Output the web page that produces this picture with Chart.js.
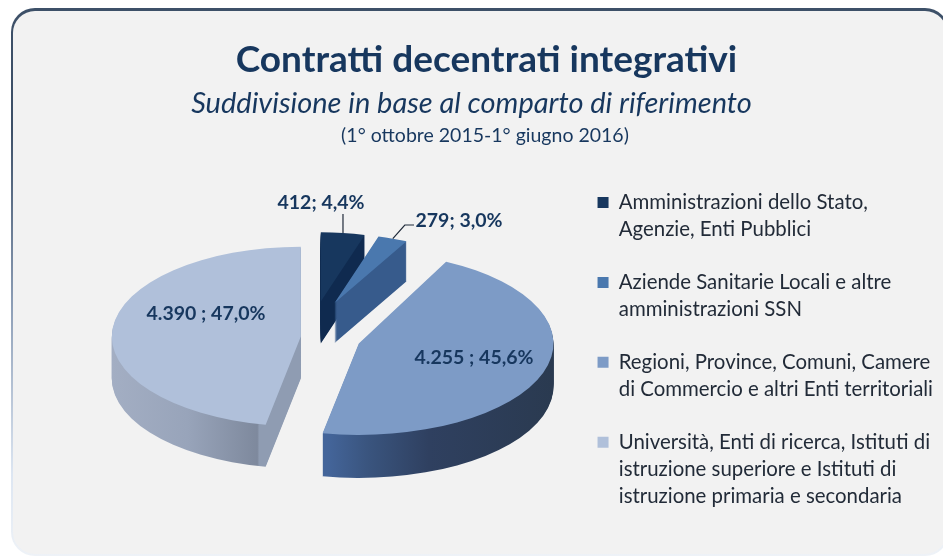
<!DOCTYPE html>
<html>
<head>
<meta charset="utf-8">
<script src="https://cdn.jsdelivr.net/npm/chart.js@4"></script>
<style>
html, body { margin: 0; padding: 0; background: #fff; overflow: hidden; }
#frame { position: absolute; left: 11px; top: 8px; width: 938px; height: 548px; border-radius: 24px;
  background: linear-gradient(#3d5068 0, #3d5068 22%, #8fa0b8 55%, #dde6f2 85%, #eef2f7 100%); }
#panel { position: absolute; left: 2px; top: 3px; right: 2px; bottom: 2px; border-radius: 22px; background: #f2f2f2; }
canvas { position: absolute; left: 0; top: 0; }
</style>
</head>
<body>
<div id="frame"><div id="panel"></div></div>
<canvas id="grafico" width="943" height="557"></canvas>
<script>
const categorie = [
    ['Amministrazioni dello Stato,', 'Agenzie, Enti Pubblici'],
    ['Aziende Sanitarie Locali e altre', 'amministrazioni SSN'],
    ['Regioni, Province, Comuni, Camere', 'di Commercio e altri Enti territoriali'],
    ['Università, Enti di ricerca, Istituti di', 'istruzione superiore e Istituti di', 'istruzione primaria e secondaria']
];
const contratti = [412, 279, 4255, 4390];
const titolo = 'Contratti decentrati integrativi';
const sottotitolo = 'Suddivisione in base al comparto di riferimento';
const periodo = '(1° ottobre 2015-1° giugno 2016)';

const colori = ['#17375e', '#4a78ae', '#7d9bc6', '#b0c0da'];
const blu = '#17375e';

// finta vista 3D: ogni fetta viene schiacciata, staccata e rimpicciolita
const spostaX = 27;
const spostaY = -26.5;
const raggio = 189;
const spessore = [42, 40, 43, 42];
const stacco = [58, 60, 48.6, 12];
const scala = [0.85, 0.85, 1.03, 1];
const schiaccia = [0.43, 0.43, 0.47, 0.475];
const abbassa = [-7, -6, 3, 4];
const ordine = [0, 1, 3, 2];
const pareti = [
    [[0, '#0f2a4f'], [1, '#0f2a4f']],
    [[0, '#375b8c'], [1, '#375b8c']],
    [[0, '#44659a'], [0.42, '#44659a'], [0.52, '#3a557f'], [0.68, '#2f4060'], [1, '#2a3a50']],
    [[0, '#a3aec3'], [0.2, '#98a4ba'], [0.385, '#7e899d'], [0.39, '#8f9cb2'], [1, '#8f9cb2']]
];
const etichette = [
    { x: 321, y: 203 },
    { x: 459, y: 221 },
    { x: 474, y: 358 },
    { x: 206, y: 314 }
];

function testoEtichetta(i) {
    const totale = contratti.reduce((a, b) => a + b, 0);
    const v = contratti[i];
    const valore = String(v).replace(/\B(?=(\d{3})+$)/g, '.');
    const perc = (v / totale * 100).toFixed(1).replace('.', ',');
    return valore + (v >= 1000 ? ' ; ' : '; ') + perc + '%';
}

function vista(ctx, arco, i, dy) {
    const meta = (arco.startAngle + arco.endAngle) / 2;
    const x = arco.x + spostaX + Math.cos(meta) * stacco[i];
    const y = arco.y + spostaY + Math.sin(meta) * stacco[i] * schiaccia[i] + abbassa[i] + dy;
    ctx.translate(x, y);
    ctx.scale(scala[i], scala[i] * schiaccia[i]);
    ctx.translate(-arco.x, -arco.y);
}

const torta3d = {
    id: 'torta3d',
    afterLayout(chart) {
        // il titolo nel riferimento sta un po' a destra del sottotitolo
        chart.titleBlock.left += 30;
    },
    beforeDatasetDraw(chart, args) {
        const ctx = chart.ctx;
        const archi = args.meta.data;
        ordine.forEach(i => {
            const arco = archi[i];
            const originali = arco.options;
            for (let d = spessore[i]; d >= 0; d--) {
                ctx.save();
                vista(ctx, arco, i, d);
                let colore = colori[i];
                if (d > 0) {
                    colore = ctx.createLinearGradient(arco.x - raggio, 0, arco.x + raggio, 0);
                    pareti[i].forEach(s => colore.addColorStop(s[0], s[1]));
                }
                arco.options = Object.assign({}, originali, { backgroundColor: colore, borderWidth: 0 });
                arco.draw(ctx);
                ctx.restore();
            }
            arco.options = originali;
        });
        return false;
    },
    afterDraw(chart) {
        const ctx = chart.ctx;
        const archi = chart.getDatasetMeta(0).data;

        // linee guida delle due fette piccole
        ctx.save();
        ctx.strokeStyle = '#1f2a3a';
        ctx.lineWidth = 1.2;
        [0, 1].forEach(i => {
            const arco = archi[i];
            const meta = (arco.startAngle + arco.endAngle) / 2;
            ctx.save();
            vista(ctx, arco, i, 0);
            const m = ctx.getTransform();
            ctx.restore();
            const px = m.transformPoint(new DOMPoint(arco.x + Math.cos(meta) * raggio, arco.y + Math.sin(meta) * raggio));
            ctx.beginPath();
            ctx.moveTo(px.x, px.y);
            if (i === 0) {
                ctx.lineTo(px.x, etichette[i].y + 11);
            } else {
                ctx.lineTo(px.x + 12, etichette[i].y + 4);
                ctx.lineTo(etichette[i].x - 45, etichette[i].y + 4);
            }
            ctx.stroke();
        });
        ctx.restore();

        ctx.save();
        ctx.textAlign = 'center';
        ctx.textBaseline = 'middle';
        ctx.fillStyle = blu;
        ctx.font = 'bold 19.5px Lato';
        etichette.forEach((e, i) => ctx.fillText(testoEtichetta(i), e.x, e.y));
        ctx.font = '19.5px Lato';
        ctx.fillText(periodo, 485, 136);
        ctx.restore();
    }
};

new Chart(document.getElementById('grafico'), {
    type: 'pie',
    data: {
        labels: categorie,
        datasets: [{
            data: contratti,
            backgroundColor: colori,
            borderWidth: 0
        }]
    },
    plugins: [torta3d],
    options: {
        responsive: false,
        animation: false,
        radius: raggio,
        layout: { padding: { top: 38, bottom: 0 } },
        plugins: {
            tooltip: { enabled: false },
            title: {
                display: true,
                text: titolo,
                color: blu,
                font: { family: 'Lato', size: 37, weight: 'bold' },
                padding: { top: 0, bottom: 4 }
            },
            subtitle: {
                display: true,
                text: sottotitolo,
                color: blu,
                font: { family: 'Lato', size: 29, style: 'italic', weight: 'normal' },
                padding: { top: 0, bottom: 41 }
            },
            legend: {
                position: 'right',
                align: 'start',
                title: {
                    display: true,
                    text: ' ',
                    font: { size: 12 },
                    padding: { top: 0, bottom: 114 }
                },
                labels: {
                    color: '#222b38',
                    font: { family: 'Lato', size: 20.4, lineHeight: 1.32 },
                    boxWidth: 11,
                    boxHeight: 11,
                    padding: 26
                }
            }
        }
    }
});
</script>
</body>
</html>
